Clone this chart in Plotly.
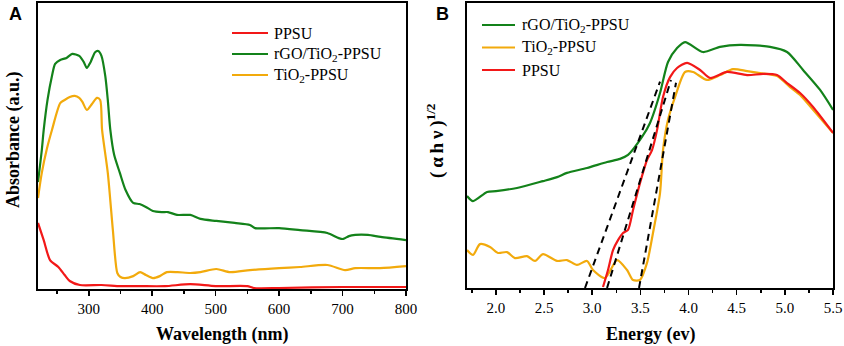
import plotly.graph_objects as go

W, H = 844, 346
W_EFF = 833  # horizontal extent that the page actually gives the figure

# ---------------- Panel A : UV-vis absorbance ----------------
ppsu_A_nm = [220, 229, 239, 252, 262, 270, 286, 320, 350, 380, 420, 460, 500, 550, 560, 600, 700, 800]
ppsu_A_abs = [23.1, 17.1, 10.1, 7.7, 4.9, 2.8, 1.4, 1.4, 1.0, 1.0, 1.0, 1.7, 1.0, 1.0, 0.35, 0.35, 0.7, 0.7]

rgo_A_nm = [220, 226, 229, 235, 242, 247, 255, 265, 274, 285, 292, 297, 303, 310, 315, 320, 326, 330, 334,
            340, 349, 358, 370, 380, 390, 401, 415, 425, 439, 460, 476, 501, 530, 554, 562, 600, 633, 676,
            694, 701, 710, 720, 740, 760, 800]
rgo_A_abs = [37.4, 48.6, 55.6, 66.1, 74.5, 78.7, 80.1, 80.8, 82.2, 81.5, 79.4, 77.3, 79.4, 82.8, 83.2, 81.5, 74.5,
             66.1, 55.6, 46.9, 40.6, 34.6, 30.1, 29.7, 28.7, 27.3, 26.9, 26.9, 25.9, 25.9, 24.5, 23.8, 23.1,
             22.4, 21.3, 21.3, 20.6, 19.6, 17.8, 17.5, 18.5, 18.9, 18.9, 18.2, 17.1]

tio2_A_nm = [220, 226, 234, 242, 255, 262, 270, 278, 285, 290, 297, 305, 313, 318, 321, 330, 338, 345, 350,
             357, 370, 381, 390, 401, 412, 423, 440, 460, 476, 501, 523, 554, 600, 633, 676, 704, 720, 759, 800]
tio2_A_abs = [31.8, 40.6, 49.0, 55.6, 65.0, 66.1, 67.1, 67.5, 66.8, 65.4, 62.6, 64.7, 66.8, 66.1, 55.6, 40.6,
              20.6, 5.6, 4.2, 3.8, 4.5, 5.9, 4.9, 3.8, 4.5, 5.9, 5.9, 5.6, 5.9, 7.0, 5.9, 6.6, 7.3, 7.7, 8.4,
              6.6, 7.3, 7.3, 8.0]

# ---------------- Panel B : Tauc plot ----------------
rgo_B_E = [1.70, 1.762, 1.908, 2.001, 2.219, 2.489, 2.635, 2.738, 2.946, 3.154, 3.289, 3.372, 3.517, 3.600,
           3.704, 3.787, 3.881, 3.964, 4.151, 4.327, 4.535, 4.846, 5.023, 5.189, 5.366, 5.501]
rgo_B_y = [32.3, 30.5, 33.7, 34.0, 35.1, 37.5, 38.9, 40.4, 42.1, 44.2, 45.3, 46.7, 53.0, 57.9,
           68.4, 79.3, 84.2, 86.3, 82.8, 84.6, 85.3, 84.6, 82.8, 76.5, 69.5, 62.5]

tio2_B_E = [1.70, 1.762, 1.835, 1.939, 2.022, 2.115, 2.198, 2.323, 2.406, 2.489, 2.635, 2.738, 2.842, 2.946,
            3.008, 3.133, 3.258, 3.362, 3.424, 3.496, 3.569, 3.631, 3.704, 3.735, 3.787, 3.860, 3.964, 4.047,
            4.192, 4.327, 4.462, 4.608, 4.743, 4.919, 5.054, 5.158, 5.293, 5.501]
tio2_B_y = [13.3, 11.6, 15.4, 14.4, 12.3, 12.6, 10.5, 11.2, 9.5, 11.9, 9.5, 9.8, 8.1, 9.5,
            6.3, 3.5, 9.8, 6.3, 2.8, 2.8, 8.8, 19.3, 33.3, 48.4, 59.0, 67.0, 75.8, 75.8,
            73.0, 74.7, 76.8, 76.1, 75.4, 74.4, 70.5, 67.7, 62.5, 54.4]

ppsu_B_E = [3.112, 3.164, 3.216, 3.268, 3.320, 3.372, 3.424, 3.496, 3.569, 3.621, 3.673, 3.735, 3.808, 3.881,
            3.985, 4.120, 4.223, 4.400, 4.608, 4.774, 4.919, 5.023, 5.158, 5.293, 5.501]
ppsu_B_y = [0.35, 6.3, 13.3, 16.8, 19.3, 20.4, 27.4, 36.8, 44.9, 48.4, 55.4, 67.0, 74.0, 77.2,
            79.0, 76.5, 73.7, 75.8, 74.7, 75.1, 74.7, 71.9, 68.4, 63.5, 54.4]

# band-gap tangent lines (E intercept, upper point)
tan_rgo_E, tan_rgo_y = [2.925, 3.704], [0.0, 72.4]
tan_ppsu_E, tan_ppsu_y = [3.154, 3.818], [0.0, 73.0]
tan_tio2_E, tan_tio2_y = [3.486, 3.870], [0.0, 72.0]

xA_ticks = [300, 400, 500, 600, 700, 800]
xB_ticks = [2.0, 2.5, 3.0, 3.5, 4.0, 4.5, 5.0, 5.5]
xB_ticklabels = ["2.0", "2.5", "3.0", "3.5", "4.0", "4.5", "5.0", "5.5"]

legend_A_labels = ["PPSU", "rGO/TiO<sub>2</sub>-PPSU", "TiO<sub>2</sub>-PPSU"]
legend_B_labels = ["rGO/TiO<sub>2</sub>-PPSU", "TiO<sub>2</sub>-PPSU", "PPSU"]

RED = "#F21818"
GREEN = "#13821A"
ORANGE = "#F2AA0C"
legend_A_colors = [RED, GREEN, ORANGE]
legend_B_colors = [GREEN, ORANGE, RED]

SERIF = "Liberation Serif, Times New Roman, serif"
SANS = "Liberation Sans, Arial, sans-serif"


def px(v):
    return v / W_EFF


def py(v):
    return 1 - v / H


fig = go.Figure()
lw = 2.2
sm = 0.7
fig.add_trace(go.Scatter(x=ppsu_A_nm, y=ppsu_A_abs, mode="lines",
                         line=dict(color=RED, width=lw, shape="spline", smoothing=sm), xaxis="x", yaxis="y"))
fig.add_trace(go.Scatter(x=rgo_A_nm, y=rgo_A_abs, mode="lines",
                         line=dict(color=GREEN, width=lw, shape="spline", smoothing=sm), xaxis="x", yaxis="y"))
fig.add_trace(go.Scatter(x=tio2_A_nm, y=tio2_A_abs, mode="lines",
                         line=dict(color=ORANGE, width=lw, shape="spline", smoothing=sm), xaxis="x", yaxis="y"))

fig.add_trace(go.Scatter(x=rgo_B_E, y=rgo_B_y, mode="lines",
                         line=dict(color=GREEN, width=lw, shape="spline", smoothing=sm), xaxis="x2", yaxis="y2"))
fig.add_trace(go.Scatter(x=tio2_B_E, y=tio2_B_y, mode="lines",
                         line=dict(color=ORANGE, width=lw, shape="spline", smoothing=sm), xaxis="x2", yaxis="y2"))
fig.add_trace(go.Scatter(x=ppsu_B_E, y=ppsu_B_y, mode="lines",
                         line=dict(color=RED, width=lw, shape="spline", smoothing=sm), xaxis="x2", yaxis="y2"))
for te, ty in [(tan_rgo_E, tan_rgo_y), (tan_ppsu_E, tan_ppsu_y), (tan_tio2_E, tan_tio2_y)]:
    fig.add_trace(go.Scatter(x=te, y=ty, mode="lines", line=dict(color="black", width=2, dash="7px,5px"),
                             xaxis="x2", yaxis="y2"))

axis_common = dict(showline=True, linecolor="black", linewidth=2, mirror=True, showgrid=False, zeroline=False,
                   tickwidth=1.5, tickcolor="black",
                   tickfont=dict(family=SERIF, size=15, color="black"))

fig.update_layout(
    width=W, height=H, autosize=False, margin=dict(l=0, r=0, t=0, b=0),
    paper_bgcolor="white", plot_bgcolor="white", showlegend=False, hovermode=False,
    xaxis=dict(domain=[px(38), px(406)], range=[220, 800], tickvals=xA_ticks, ticks="outside", ticklen=5,
               minor=dict(dtick=50, tick0=250, ticks="outside", ticklen=3, tickwidth=1.5, tickcolor="black"),
               anchor="y", ticklabelstandoff=0, **axis_common),
    yaxis=dict(domain=[py(289), py(3)], range=[0, 100], showticklabels=False, ticks="", anchor="x",
               **axis_common),
    xaxis2=dict(domain=[px(467), px(833)], range=[1.7, 5.5], tickvals=xB_ticks, ticktext=xB_ticklabels,
                ticks="outside", ticklen=5,
                minor=dict(dtick=0.25, tick0=1.75, ticks="outside", ticklen=3, tickwidth=1.5, tickcolor="black"),
                anchor="y2", ticklabelstandoff=0, **axis_common),
    yaxis2=dict(domain=[py(288), py(3)], range=[0, 100], showticklabels=False, ticks="", anchor="x2",
                **axis_common),
)

annos = [
    dict(text="<b>A</b>", x=px(15), y=py(14), font=dict(family=SANS, size=18, color="black")),
    dict(text="<b>B</b>", x=px(443), y=py(14), font=dict(family=SANS, size=18, color="black")),
    dict(text="<b>Wavelength (nm)</b>", x=px(222), y=py(334), font=dict(family=SERIF, size=18, color="black")),
    dict(text="<b>Energy (ev)</b>", x=px(650), y=py(334), font=dict(family=SERIF, size=18, color="black")),
    dict(text="<b>Absorbance (a.u.)</b>", x=px(13), y=py(140), textangle=-90,
         font=dict(family=SERIF, size=18, color="black")),
    dict(text="<b>(\u2009α\u2009h\u2009ν\u2009)<sup>1/2</sup></b>", x=px(435), y=py(140), textangle=-90,
         font=dict(family=SERIF, size=19, color="black")),
]
shapes = []
# legends (drawn manually for exact spacing)
for i, (lab, col) in enumerate(zip(legend_A_labels, legend_A_colors)):
    yy = 33 + i * 21
    shapes.append(dict(type="line", xref="paper", yref="paper", x0=px(232), x1=px(268), y0=py(yy), y1=py(yy),
                       line=dict(color=col, width=2.2)))
    annos.append(dict(text=lab, x=px(272), y=py(yy + 0.5), xanchor="left",
                      font=dict(family=SERIF, size=16, color="black")))
for i, (lab, col) in enumerate(zip(legend_B_labels, legend_B_colors)):
    yy = 25 + i * 22.5
    shapes.append(dict(type="line", xref="paper", yref="paper", x0=px(482), x1=px(515), y0=py(yy), y1=py(yy),
                       line=dict(color=col, width=2.2)))
    annos.append(dict(text=lab, x=px(520), y=py(yy + 0.5), xanchor="left",
                      font=dict(family=SERIF, size=16, color="black")))

for a in annos:
    a.setdefault("xanchor", "center")
    a.update(xref="paper", yref="paper", showarrow=False, yanchor="middle")
fig.update_layout(annotations=annos, shapes=shapes)

fig.write_html("out.html",
               config={"responsive": False, "displayModeBar": False, "staticPlot": True},
               post_script="document.body.style.margin='0px';document.body.style.overflow='hidden';")
